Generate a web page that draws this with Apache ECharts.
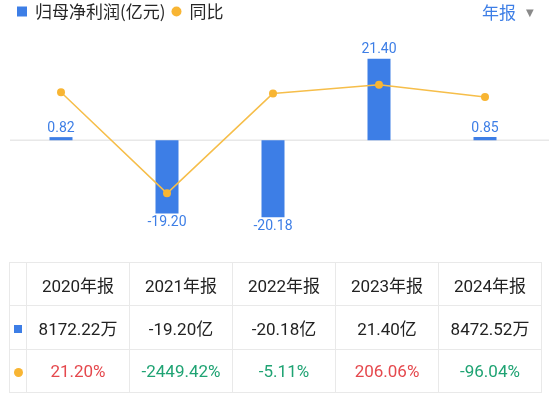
<!DOCTYPE html>
<html><head><meta charset="utf-8">
<script src="https://cdn.jsdelivr.net/npm/echarts@6/dist/echarts.min.js"></script>
<style>
html,body{margin:0;padding:0;background:#fff;}
#chart{position:absolute;left:0;top:0;width:549px;height:393px;}
#tbl{position:absolute;left:9px;top:262px;border-collapse:collapse;table-layout:fixed;width:533px;font-family:Roboto,"Noto Sans CJK SC",sans-serif;font-size:17px;color:#222;}
#tbl td{border:1px solid #e9e9e9;text-align:center;padding:0;white-space:nowrap;}
#tbl tr.h td{height:42px;}
#tbl tr.r1 td{height:43px;}
#tbl tr.r2 td{height:42px;}
.sq{display:inline-block;width:8px;height:8px;background:#3d7ee6;vertical-align:middle;}
.dot{display:inline-block;width:9px;height:9px;border-radius:50%;background:#f8b533;vertical-align:middle;}
.up{color:#e5484d;}
.down{color:#1fa373;}
</style></head>
<body><div id="chart"></div><table id="tbl"></table>
<script>
const years = ['2020年报','2021年报','2022年报','2023年报','2024年报'];
const profit = [0.82, -19.20, -20.18, 21.40, 0.85];
const yoy = [21.20, -2449.42, -5.11, 206.06, -96.04];
const profitText = ['8172.22万','-19.20亿','-20.18亿','21.40亿','8472.52万'];
const yoyText = ['21.20%','-2449.42%','-5.11%','206.06%','-96.04%'];
const legendNames = ['归母净利润(亿元)','同比'];
const periodLabel = '年报';

const BLUE = '#3d7ee6', GOLD = '#f6be4a', DOT = '#f8b533';
const chart = echarts.init(document.getElementById('chart'), null, {renderer:'canvas'});
const FONT = 'Roboto, "Noto Sans CJK SC", sans-serif';
chart.setOption({
  animation:false,
  textStyle:{fontFamily:FONT},
  legend:{
    left:17, top:3, padding:0, itemWidth:10, itemHeight:10, itemGap:6,
    textStyle:{fontSize:17, color:'#262626', fontFamily:'"Noto Sans CJK SC", sans-serif', padding:[0,0,0,3]},
    data:[{name:legendNames[0], icon:'rect'},{name:legendNames[1], icon:'circle'}]
  },
  grid:{left:8, top:45, width:530, height:190.5},
  xAxis:{type:'category', data:years, boundaryGap:true, axisLine:{show:false}, axisTick:{show:false}, axisLabel:{show:false}, splitLine:{show:false}},
  yAxis:[
    {type:'value', min:-25, max:25, show:false, splitLine:{show:false}},
    {type:'value', min:-3480, max:1178, show:false, splitLine:{show:false}}
  ],
  series:[
    {name:legendNames[0], type:'bar', yAxisIndex:0, barWidth:23, itemStyle:{color:BLUE},
     data: profit.map(v=>({value:v, label:{position: v<0?'bottom':'top'}})),
     label:{show:true, distance:2, color:BLUE, fontSize:14, fontFamily:FONT, formatter:p=>p.value.toFixed(2)}
    },
    {name:legendNames[1], type:'line', yAxisIndex:1, data:yoy, symbol:'circle', symbolSize:8,
     lineStyle:{color:GOLD, width:1.5}, itemStyle:{color:DOT}}
  ]
});
const y0 = chart.convertToPixel({yAxisIndex:0}, 0);
chart.setOption({graphic:[
  {type:'line', z:-1, shape:{x1:10, y1:y0, x2:549, y2:y0}, style:{stroke:'#e8e8e8', lineWidth:1.5}},
  {type:'text', left:482, top:4, style:{text:periodLabel, font:'17px "Noto Sans CJK SC", sans-serif', fill:BLUE}},
  {type:'text', left:526, top:8, style:{text:'▼', font:'10px "DejaVu Sans", sans-serif', fill:'#8a8a8a'}}
]});

// table
const tbl = document.getElementById('tbl');
let html = '<colgroup><col style="width:17px">' + years.map(()=>'<col>').join('') + '</colgroup>';
html += '<tr class="h"><td></td>' + years.map(y=>'<td>'+y+'</td>').join('') + '</tr>';
html += '<tr class="r1"><td><span class="sq"></span></td>' + profitText.map(t=>'<td>'+t+'</td>').join('') + '</tr>';
html += '<tr class="r2"><td><span class="dot"></span></td>' + yoyText.map((t,i)=>'<td class="'+(yoy[i]>=0?'up':'down')+'">'+t+'</td>').join('') + '</tr>';
tbl.innerHTML = html;
</script>
</body></html>
